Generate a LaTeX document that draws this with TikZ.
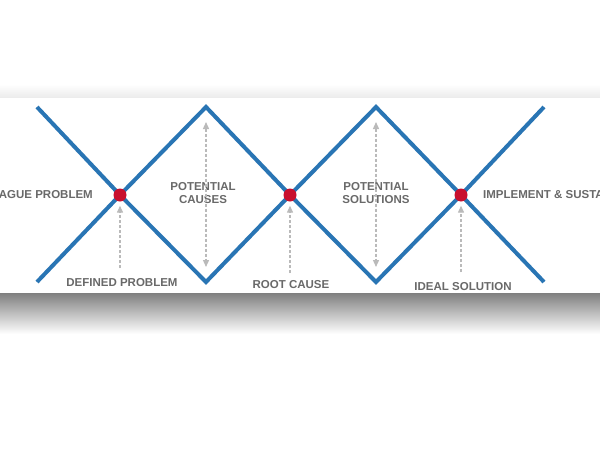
\documentclass[tikz,border=0pt]{standalone}
\usepackage{fontspec}
\setmainfont{Liberation Sans}
\usetikzlibrary{arrows.meta}
\definecolor{vblue}{RGB}{41,117,180}
\definecolor{vred}{RGB}{200,16,46}
\definecolor{vtext}{RGB}{105,105,105}
\definecolor{varrow}{RGB}{186,186,186}
\begin{document}
\begin{tikzpicture}[x=1pt,y=-1pt]
% define styles
\tikzstyle{vline}=[draw=vblue, line width=4pt]
\tikzstyle{meet}=[circle, fill=vred, minimum size=13pt, inner sep=0pt]
\tikzstyle{lbl}=[text=vtext, font=\fontsize{11.5}{13.5}\selectfont\bfseries, align=center, inner sep=0pt]
\tikzstyle{a}=[draw=varrow, line width=1.3pt, dash pattern=on 3pt off 2pt,
    -{Triangle[width=6pt,length=7pt]}, shorten >=4pt]
\tikzstyle{a2}=[draw=varrow, line width=1.3pt, dash pattern=on 3pt off 2pt,
    {Triangle[width=6pt,length=7pt]}-{Triangle[width=6pt,length=7pt]}, shorten >=15pt, shorten <=15pt]
\useasboundingbox (0,0) rectangle (600,450);
\clip (0,0) rectangle (600,450);
% panel and shadow
\fill[white] (0,0) rectangle (600,450);
\shade[top color=white, bottom color=black!8] (0,84) rectangle (600,98);
\shade[top color=black!50, bottom color=white] (0,293) rectangle (600,334);
\fill[white] (0,98) rectangle (600,293);
% corners of the zigzag
\coordinate (lt) at (37,107);
\coordinate (lb) at (37,282);
\coordinate (p1) at (206,107);
\coordinate (v1) at (206,282);
\coordinate (p2) at (376,107);
\coordinate (v2) at (376,282);
\coordinate (rt) at (544,107);
\coordinate (rb) at (544,282);
\coordinate (c1) at (120,195);
\coordinate (c2) at (290,195);
\coordinate (c3) at (461,195);
% lines
\draw[vline] (lt) -- (c1) -- (v1) -- (c2) -- (p2) -- (c3) -- (rb);
\draw[vline] (lb) -- (c1) -- (p1) -- (c2) -- (v2) -- (c3) -- (rt);
% meeting points
\node[meet] (x1) at (c1) {};
\node[meet] (x2) at (c2) {};
\node[meet] (x3) at (c3) {};
% labels
\node[lbl, anchor=east] (vague) at (93,195) {VAGUE PROBLEM};
\node[lbl] (causes) at (203,193) {POTENTIAL\\CAUSES};
\node[lbl] (solutions) at (376,193) {POTENTIAL\\SOLUTIONS};
\node[lbl, anchor=west] (impl) at (483,195) {IMPLEMENT \& SUSTAIN};
\node[lbl] (defined) at (122,283) {DEFINED PROBLEM};
\node[lbl] (root) at (291,285) {ROOT CAUSE};
\node[lbl] (ideal) at (463,287) {IDEAL SOLUTION};
% arrows
\coordinate (t1) at (120,268);
\coordinate (t2) at (290,273);
\coordinate (t3) at (461,272);
\draw[a] (t1) -- (x1);
\draw[a] (t2) -- (x2);
\draw[a] (t3) -- (x3);
\draw[a2] (p1) -- (v1);
\draw[a2] (p2) -- (v2);
\end{tikzpicture}
\end{document}
